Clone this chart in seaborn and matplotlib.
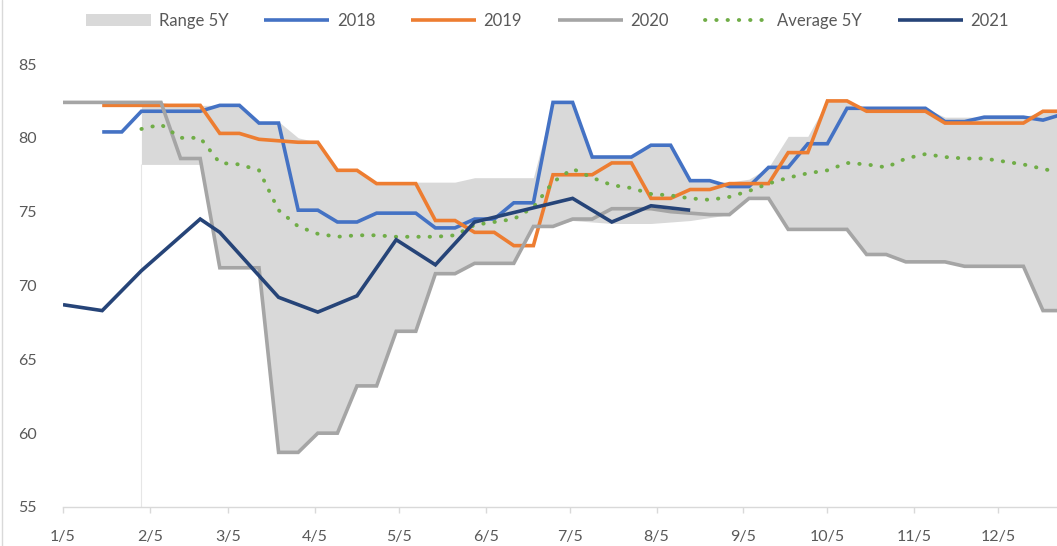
import numpy as np
import pandas as pd
import matplotlib
matplotlib.use("Agg")
import matplotlib.pyplot as plt
from matplotlib.lines import Line2D
import seaborn as sns

nan = np.nan

# weekly values (week 0 = 5 Jan)
y2018 = [nan, nan, 80.4, 80.4, 81.8, 81.8, 81.8, 81.8, 82.2, 82.2, 81.0, 81.0, 75.1, 75.1,
         74.3, 74.3, 74.9, 74.9, 74.9, 73.9, 73.9, 74.5, 74.5, 75.6, 75.6, 82.4, 82.4, 78.7,
         78.7, 78.7, 79.5, 79.5, 77.1, 77.1, 76.7, 76.7, 78.0, 78.0, 79.6, 79.6, 82.0, 82.0,
         82.0, 82.0, 82.0, 81.1, 81.1, 81.4, 81.4, 81.4, 81.2, 81.6]
y2019 = [nan, nan, 82.2, 82.2, 82.2, 82.2, 82.2, 82.2, 80.3, 80.3, 79.9, 79.8, 79.7, 79.7,
         77.8, 77.8, 76.9, 76.9, 76.9, 74.4, 74.4, 73.6, 73.6, 72.7, 72.7, 77.5, 77.5, 77.5,
         78.3, 78.3, 75.9, 75.9, 76.5, 76.5, 76.9, 76.9, 76.9, 79.0, 79.0, 82.5, 82.5, 81.8,
         81.8, 81.8, 81.8, 81.0, 81.0, 81.0, 81.0, 81.0, 81.8, 81.8]
y2020 = [82.4, 82.4, 82.4, 82.4, 82.4, 82.4, 78.6, 78.6, 71.2, 71.2, 71.2, 58.7, 58.7, 60.0,
         60.0, 63.2, 63.2, 66.9, 66.9, 70.8, 70.8, 71.5, 71.5, 71.5, 74.0, 74.0, 74.5, 74.5,
         75.2, 75.2, 75.2, 75.0, 74.9, 74.8, 74.8, 75.9, 75.9, 73.8, 73.8, 73.8, 73.8, 72.1,
         72.1, 71.6, 71.6, 71.6, 71.3, 71.3, 71.3, 71.3, 68.3, 68.3]
avg5 = [nan, nan, nan, nan, 80.6, 80.9, 80.0, 80.0, 78.3, 78.2, 77.8, 75.1, 74.0, 73.5,
        73.3, 73.4, 73.4, 73.3, 73.3, 73.3, 73.4, 74.1, 74.3, 74.5, 75.3, 77.0, 77.9, 77.3,
        76.8, 76.6, 76.2, 76.1, 75.9, 75.8, 76.0, 76.4, 76.9, 77.3, 77.6, 77.8, 78.3, 78.2,
        78.0, 78.6, 78.9, 78.7, 78.6, 78.6, 78.4, 78.2, 77.9, 77.6]
y2021 = [68.7, nan, 68.3, nan, 71.0, nan, nan, 74.5, 73.6, nan, nan, 69.2, nan, 68.2,
         nan, 69.3, nan, 73.1, nan, 71.4, nan, 74.3, nan, nan, nan, nan, 75.9, nan,
         74.3, nan, 75.4, nan, 75.1, nan, nan, nan, nan, nan, nan, nan, nan, nan,
         nan, nan, nan, nan, nan, nan, nan, nan, nan, nan]
range_hi = [nan, nan, nan, nan, 82.4, 82.4, 82.2, 82.2, 82.2, 82.2, 81.1, 81.1, 80.0, 79.7,
            77.8, 77.8, 77.0, 77.0, 77.0, 77.0, 77.0, 77.3, 77.3, 77.3, 77.3, 82.4, 82.4, 78.7,
            78.7, 78.7, 79.5, 79.5, 77.1, 77.1, 77.0, 77.2, 78.0, 80.1, 80.1, 82.5, 82.5, 82.0,
            82.0, 82.0, 82.0, 81.4, 81.4, 81.4, 81.4, 81.4, 81.8, 81.8]
range_lo = [nan, nan, nan, nan, 78.2, 78.2, 78.2, 78.2, 71.2, 71.2, 71.2, 58.7, 58.7, 60.0,
            60.0, 63.2, 63.2, 66.9, 66.9, 70.8, 70.8, 71.5, 71.5, 71.5, 74.0, 74.0, 74.4, 74.3,
            74.2, 74.2, 74.2, 74.3, 74.4, 74.6, 74.8, 75.9, 75.9, 73.8, 73.8, 73.8, 73.8, 72.1,
            72.1, 71.6, 71.6, 71.6, 71.3, 71.3, 71.3, 71.3, 68.3, 68.3]

weeks = pd.date_range("2021-01-05", periods=52, freq="7D")
tick_dates = pd.date_range("2021-01-01", periods=12, freq="MS") + pd.Timedelta(days=4)
tick_labels = [f"{d.month}/{d.day}" for d in tick_dates]

df = pd.DataFrame({"date": weeks, "2018": y2018, "2019": y2019, "2020": y2020,
                   "Average 5Y": avg5, "2021": y2021, "hi": range_hi, "lo": range_lo})

sns.set_theme(style="white")
plt.rcParams["font.family"] = ["Lato", "DejaVu Sans"]
txt = "#595959"

fig = plt.figure(figsize=(10.57, 5.46), dpi=100)
ax = fig.add_axes([63 / 1057, 1 - 507 / 546, 1 - 63 / 1057, (507 - 64) / 546])

rng = df.dropna(subset=["hi", "lo"])
ax.fill_between(rng["date"], rng["lo"], rng["hi"], color="#d9d9d9", lw=0,
                label="Range 5Y", zorder=1)
ax.vlines(rng["date"].iloc[0], 55, rng["lo"].iloc[0], color="#e6e6e6", lw=0.8, zorder=1)

styles = {"2018": "#4472c4", "2019": "#ed7d31", "2020": "#a5a5a5",
          "Average 5Y": "#70ad47", "2021": "#264478"}
for name, col in styles.items():
    d = df[["date", name]].dropna()
    if name == "Average 5Y":
        sns.lineplot(data=d, x="date", y=name, ax=ax, color=col, lw=2.8, label=name,
                     linestyle=(0, (0.1, 2.8)), dash_capstyle="round", estimator=None,
                     sort=False, zorder=3)
    else:
        sns.lineplot(data=d, x="date", y=name, ax=ax, color=col, lw=2.6, label=name,
                     estimator=None, sort=False, zorder=3,
                     solid_joinstyle="miter", solid_capstyle="butt")

ax.set_xticks(tick_dates)
ax.set_xticklabels(tick_labels)
ax.set_xlim(weeks[0], weeks[0] + pd.Timedelta(days=355))
ax.set_ylim(55, 85)
ax.set_yticks([55, 60, 65, 70, 75, 80, 85])
ax.set_xlabel("")
ax.set_ylabel("")
for s in ["left", "top", "right"]:
    ax.spines[s].set_visible(False)
ax.spines["bottom"].set_color("#d9d9d9")
ax.spines["bottom"].set_linewidth(1.0)
ax.tick_params(axis="x", direction="out", length=4, width=1, color="#d9d9d9",
               pad=12.5, labelsize=11.5, labelcolor=txt, bottom=True)
ax.tick_params(axis="y", length=0, pad=19, labelsize=11.5, labelcolor=txt)

handles, labels = ax.get_legend_handles_labels()
ax.get_legend().remove()
fig.legend(handles, labels, loc="center", bbox_to_anchor=(0.518, 0.962), ncol=6,
           frameon=False, fontsize=12, labelcolor=txt, handlelength=3.9,
           handleheight=0.8, handletextpad=0.45, columnspacing=2.15)

fig.add_artist(Line2D([0.002, 0.002], [0, 1], color="#d9d9d9", lw=1))

fig.savefig("out.png", dpi=100)
